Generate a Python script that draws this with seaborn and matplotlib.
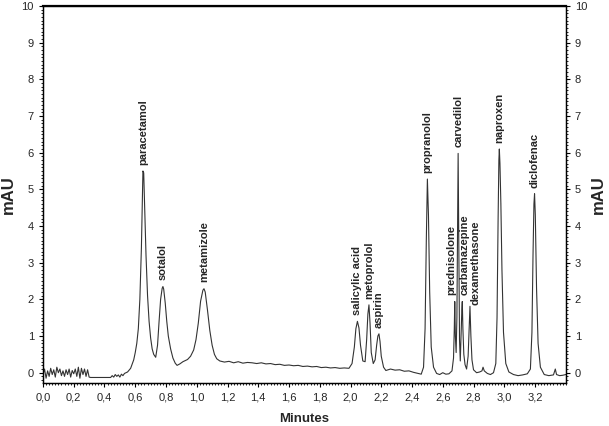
import pandas as pd
import seaborn as sns
import matplotlib.pyplot as plt
from matplotlib.ticker import MultipleLocator, FuncFormatter

# Chromatogram trace (time in minutes, signal in mAU)
time = [0.00, 0.01, 0.02, 0.03, 0.04, 0.05, 0.06, 0.07, 0.08, 0.09,
        0.10, 0.11, 0.12, 0.13, 0.14, 0.15, 0.16, 0.17, 0.18, 0.19,
        0.20, 0.21, 0.22, 0.23, 0.24, 0.25, 0.26, 0.27, 0.28, 0.29,
        0.30, 0.31, 0.44, 0.45, 0.46, 0.47, 0.48, 0.49, 0.50, 0.51,
        0.52, 0.53, 0.55, 0.57, 0.59, 0.60, 0.61, 0.62, 0.63, 0.64,
        0.645, 0.65, 0.655, 0.66, 0.665, 0.67, 0.68, 0.69, 0.70, 0.71,
        0.72, 0.733, 0.745, 0.755, 0.765, 0.775, 0.78, 0.785, 0.795, 0.805,
        0.815, 0.83, 0.845, 0.86, 0.872, 0.89, 0.91, 0.94, 0.96, 0.98,
        0.995, 1.01, 1.025, 1.04, 1.047, 1.055, 1.07, 1.085, 1.10, 1.115,
        1.13, 1.15, 1.18, 1.21, 1.24, 1.27, 1.30, 1.33, 1.36, 1.39,
        1.42, 1.45, 1.48, 1.51, 1.54, 1.57, 1.60, 1.63, 1.66, 1.69,
        1.72, 1.75, 1.78, 1.81, 1.84, 1.87, 1.90, 1.93, 1.96, 1.99,
        2.01, 2.025, 2.035, 2.045, 2.055, 2.065, 2.08, 2.095, 2.105, 2.113,
        2.12, 2.127, 2.135, 2.148, 2.16, 2.17, 2.178, 2.185, 2.192, 2.20,
        2.215, 2.23, 2.26, 2.29, 2.32, 2.35, 2.38, 2.41, 2.44, 2.46,
        2.475, 2.485, 2.493, 2.50, 2.507, 2.515, 2.525, 2.54, 2.56, 2.58,
        2.60, 2.62, 2.64, 2.66, 2.67, 2.675, 2.678, 2.682, 2.687, 2.692,
        2.696, 2.70, 2.704, 2.709, 2.714, 2.72, 2.724, 2.727, 2.731, 2.737,
        2.745, 2.755, 2.765, 2.772, 2.777, 2.783, 2.79, 2.80, 2.82, 2.84,
        2.855, 2.862, 2.87, 2.89, 2.91, 2.93, 2.945, 2.953, 2.96, 2.965,
        2.968, 2.972, 2.978, 2.985, 2.995, 3.01, 3.03, 3.06, 3.09, 3.12,
        3.15, 3.17, 3.18, 3.187, 3.193, 3.197, 3.202, 3.21, 3.22, 3.235,
        3.26, 3.29, 3.32, 3.332, 3.34, 3.36, 3.38, 3.40]
signal = [-0.05, 0.10, -0.15, 0.05, -0.10, 0.12, -0.05, 0.08, -0.12, 0.15,
          0.00, 0.10, -0.08, 0.05, -0.10, 0.08, -0.05, 0.10, -0.12, 0.06,
          -0.03, 0.10, -0.10, 0.15, -0.15, 0.12, -0.05, 0.10, -0.10, 0.08,
          -0.12, -0.13, -0.13, -0.08, -0.12, -0.05, -0.10, -0.06, -0.12, -0.04,
          -0.08, -0.02, 0.02, 0.12, 0.35, 0.55, 0.80, 1.20, 2.00, 3.40,
          4.40, 5.50, 5.45, 4.70, 3.90, 3.20, 2.10, 1.40, 0.95, 0.65,
          0.50, 0.42, 0.75, 1.40, 2.00, 2.30, 2.35, 2.28, 1.90, 1.40,
          1.00, 0.65, 0.40, 0.26, 0.20, 0.24, 0.30, 0.36, 0.45, 0.62,
          0.90, 1.35, 1.95, 2.25, 2.29, 2.20, 1.70, 1.15, 0.75, 0.50,
          0.38, 0.32, 0.29, 0.31, 0.27, 0.30, 0.26, 0.28, 0.27, 0.25,
          0.27, 0.24, 0.25, 0.22, 0.23, 0.20, 0.21, 0.19, 0.20, 0.17,
          0.18, 0.16, 0.17, 0.14, 0.15, 0.13, 0.14, 0.12, 0.13, 0.12,
          0.25, 0.70, 1.20, 1.40, 1.22, 0.75, 0.32, 0.30, 0.90, 1.60,
          1.85, 1.35, 0.55, 0.25, 0.35, 0.75, 1.00, 1.06, 0.85, 0.45,
          0.15, 0.06, 0.10, 0.07, 0.08, 0.04, 0.05, 0.01, -0.02, -0.04,
          0.15, 1.20, 3.60, 5.28, 4.30, 2.20, 0.70, 0.15, -0.02, -0.05,
          0.00, -0.04, -0.03, 0.05, 0.40, 1.20, 1.94, 1.00, 0.55, 1.50,
          3.80, 5.98, 3.60, 0.90, 0.32, 1.20, 1.70, 1.94, 1.20, 0.50,
          0.22, 0.10, 0.45, 1.20, 1.81, 1.00, 0.35, 0.08, 0.00, 0.02,
          0.05, 0.15, 0.05, -0.02, -0.05, 0.00, 0.25, 1.50, 4.20, 5.80,
          6.10, 5.70, 4.60, 2.80, 1.10, 0.25, 0.02, -0.05, -0.08, -0.06,
          -0.03, 0.10, 1.10, 3.20, 4.60, 4.88, 4.30, 2.30, 0.80, 0.15,
          -0.05, -0.08, -0.06, 0.10, -0.05, -0.08, -0.07, -0.05]

# Peak labels: compound, retention time, peak height
peak_names = ['paracetamol', 'sotalol', 'metamizole', 'salicylic acid', 'metoprolol',
              'aspirin', 'propranolol', 'prednisolone', 'carvedilol', 'carbamazepine',
              'dexamethasone', 'naproxen', 'diclofenac']
peak_times = [0.65, 0.78, 1.047, 2.045, 2.12, 2.185, 2.50, 2.678, 2.70, 2.727,
              2.777, 2.968, 3.196]
peak_heights = [5.5, 2.35, 2.29, 1.40, 1.85, 1.06, 5.28, 1.94, 5.98, 1.94,
                1.81, 6.10, 4.88]

df = pd.DataFrame({'Minutes': time, 'mAU': signal})

sns.set_style('ticks')
plt.rcParams['font.family'] = ['Liberation Sans', 'DejaVu Sans']

fig = plt.figure(figsize=(6.09, 4.26), dpi=100)
ax = fig.add_axes([0.0706, 0.101, 0.8584, 0.885])
sns.lineplot(data=df, x='Minutes', y='mAU', ax=ax, color='#333333', linewidth=0.8)

# small shifts for crowded labels
label_dx = {'prednisolone': -0.024, 'carbamazepine': 0.018, 'dexamethasone': 0.037}
label_dy = {'dexamethasone': 0.04}
for name, t, h in zip(peak_names, peak_times, peak_heights):
    ax.text(t + label_dx.get(name, 0.0), h + label_dy.get(name, 0.17), name,
            rotation=90, ha='center', va='bottom', fontsize=8, fontweight='bold')

ax.set_xlim(0, 3.4)
ax.set_ylim(-0.28, 10)
ax.xaxis.set_minor_locator(MultipleLocator(0.02))
ax.yaxis.set_major_locator(MultipleLocator(1))
ax.yaxis.set_minor_locator(MultipleLocator(0.1))
ax.set_xticks([v / 10 for v in range(0, 33, 2)])
ax.xaxis.set_major_formatter(FuncFormatter(lambda v, p: f'{v:.1f}'.replace('.', ',')))
ax.tick_params(axis='both', which='major', labelsize=8, length=3, width=0.8, color='black')
ax.tick_params(axis='both', which='minor', length=1.5, width=0.6, color='black')
ax.set_xlabel('Minutes', fontsize=9.5, fontweight='bold', labelpad=8)
ax.set_ylabel('mAU', fontsize=12, fontweight='bold', labelpad=4)

ax2 = ax.twinx()
ax2.set_ylim(ax.get_ylim())
ax2.yaxis.set_major_locator(MultipleLocator(1))
ax2.yaxis.set_minor_locator(MultipleLocator(0.1))
ax2.tick_params(axis='y', which='major', labelsize=8, length=3, width=0.8, color='black')
ax2.tick_params(axis='y', which='minor', length=1.5, width=0.6, color='black')
ax2.set_ylabel('mAU', fontsize=12, fontweight='bold', labelpad=3)

for a in (ax, ax2):
    for side, sp in a.spines.items():
        sp.set_visible(True)
        sp.set_color('black')
        sp.set_linewidth(0.9)
ax.spines['top'].set_linewidth(1.6)

fig.savefig('out.png', dpi=100)
